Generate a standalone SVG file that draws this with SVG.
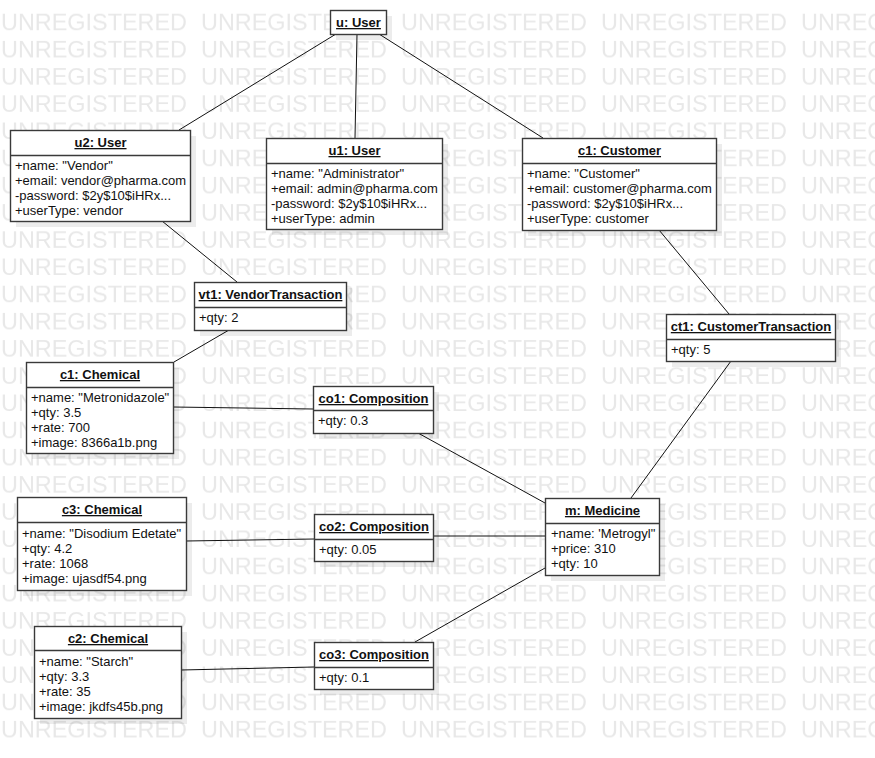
<svg xmlns="http://www.w3.org/2000/svg" width="875" height="758" viewBox="0 0 875 758">
<style>
.wm{font-family:"Liberation Sans",Arial,sans-serif;font-size:24px;fill:#e8e8e8}
.sh{fill:#000;fill-opacity:0.075}
.box{fill:#fff;stroke:#3a3a3a;stroke-width:1.4}
.div{stroke:#3a3a3a;stroke-width:1.4}
.t{font-family:"Liberation Sans",Arial,sans-serif;font-size:13px;font-weight:bold;fill:#111;text-anchor:middle;text-decoration:underline}
.a{font-family:"Liberation Sans",Arial,sans-serif;font-size:13px;fill:#111}
.c{stroke:#111;stroke-width:1;fill:none}
</style>
<defs>
<pattern id="wmp" patternUnits="userSpaceOnUse" x="0" y="4" width="200" height="27.2">
<text class="wm" x="1" y="26.5" textLength="186" lengthAdjust="spacingAndGlyphs">UNREGISTERED</text>
</pattern>
</defs>
<rect width="875" height="758" fill="#fff"/>
<rect x="0" y="5" width="875" height="737" fill="url(#wmp)"/>
<g id="connectors">
<line class="c" x1="336" y1="34" x2="179" y2="130"/>
<line class="c" x1="357" y1="34" x2="355" y2="138"/>
<line class="c" x1="379" y1="34" x2="543" y2="138"/>
<line class="c" x1="162" y1="221" x2="237" y2="282"/>
<line class="c" x1="229" y1="330" x2="174" y2="362"/>
<line class="c" x1="173" y1="407" x2="313" y2="409"/>
<line class="c" x1="418" y1="433" x2="545" y2="503"/>
<line class="c" x1="659" y1="230" x2="729" y2="314"/>
<line class="c" x1="731" y1="361" x2="631" y2="498"/>
<line class="c" x1="186" y1="541" x2="314" y2="539"/>
<line class="c" x1="433" y1="536" x2="545" y2="536"/>
<line class="c" x1="181" y1="670" x2="314" y2="667"/>
<line class="c" x1="415" y1="642" x2="545" y2="568"/>
</g>
<g id="u">
<rect class="sh" x="336" y="16" width="56" height="24"/>
<rect class="box" x="330.5" y="10.5" width="56" height="24"/>
<text class="t" x="358.5" y="27">u: User</text>
</g>
<g id="u2">
<rect class="sh" x="16" y="136" width="180" height="91"/>
<rect class="box" x="10.5" y="130.5" width="180" height="91"/>
<line class="div" x1="10.5" y1="155.5" x2="190.5" y2="155.5"/>
<text class="t" x="100.5" y="147">u2: User</text>
<text class="a" x="15" y="170">+name: "Vendor"</text>
<text class="a" x="15" y="185">+email: vendor@pharma.com</text>
<text class="a" x="15" y="200">-password: $2y$10$iHRx...</text>
<text class="a" x="15" y="215">+userType: vendor</text>
</g>
<g id="u1">
<rect class="sh" x="272" y="144" width="176" height="91"/>
<rect class="box" x="266.5" y="138.5" width="176" height="91"/>
<line class="div" x1="266.5" y1="163.5" x2="442.5" y2="163.5"/>
<text class="t" x="354.5" y="155">u1: User</text>
<text class="a" x="271" y="178">+name: "Administrator"</text>
<text class="a" x="271" y="193">+email: admin@pharma.com</text>
<text class="a" x="271" y="208">-password: $2y$10$iHRx...</text>
<text class="a" x="271" y="223">+userType: admin</text>
</g>
<g id="c1customer">
<rect class="sh" x="528" y="144" width="194" height="92"/>
<rect class="box" x="522.5" y="138.5" width="194" height="92"/>
<line class="div" x1="522.5" y1="163.5" x2="716.5" y2="163.5"/>
<text class="t" x="619.5" y="155">c1: Customer</text>
<text class="a" x="527" y="178">+name: "Customer"</text>
<text class="a" x="527" y="193">+email: customer@pharma.com</text>
<text class="a" x="527" y="208">-password: $2y$10$iHRx...</text>
<text class="a" x="527" y="223">+userType: customer</text>
</g>
<g id="vt1">
<rect class="sh" x="200" y="288" width="152" height="48"/>
<rect class="box" x="194.5" y="282.5" width="152" height="48"/>
<line class="div" x1="194.5" y1="307.5" x2="346.5" y2="307.5"/>
<text class="t" x="270.5" y="299">vt1: VendorTransaction</text>
<text class="a" x="199" y="322">+qty: 2</text>
</g>
<g id="c1chemical">
<rect class="sh" x="32" y="368" width="147" height="91"/>
<rect class="box" x="26.5" y="362.5" width="147" height="91"/>
<line class="div" x1="26.5" y1="387.5" x2="173.5" y2="387.5"/>
<text class="t" x="100" y="379">c1: Chemical</text>
<text class="a" x="31" y="402">+name: "Metronidazole"</text>
<text class="a" x="31" y="417">+qty: 3.5</text>
<text class="a" x="31" y="432">+rate: 700</text>
<text class="a" x="31" y="447">+image: 8366a1b.png</text>
</g>
<g id="co1">
<rect class="sh" x="319" y="392" width="120" height="47"/>
<rect class="box" x="313.5" y="386.5" width="120" height="47"/>
<line class="div" x1="313.5" y1="410.5" x2="433.5" y2="410.5"/>
<text class="t" x="373.5" y="403">co1: Composition</text>
<text class="a" x="318" y="425">+qty: 0.3</text>
</g>
<g id="ct1">
<rect class="sh" x="672" y="320" width="169" height="47"/>
<rect class="box" x="666.5" y="314.5" width="169" height="47"/>
<line class="div" x1="666.5" y1="339.5" x2="835.5" y2="339.5"/>
<text class="t" x="751" y="331">ct1: CustomerTransaction</text>
<text class="a" x="671" y="354">+qty: 5</text>
</g>
<g id="m">
<rect class="sh" x="551" y="504" width="114" height="77"/>
<rect class="box" x="545.5" y="498.5" width="114" height="77"/>
<line class="div" x1="545.5" y1="523.5" x2="659.5" y2="523.5"/>
<text class="t" x="602.5" y="515">m: Medicine</text>
<text class="a" x="551" y="538">+name: 'Metrogyl"</text>
<text class="a" x="551" y="553">+price: 310</text>
<text class="a" x="551" y="568">+qty: 10</text>
</g>
<g id="c3">
<rect class="sh" x="23" y="503" width="169" height="93"/>
<rect class="box" x="17.5" y="497.5" width="169" height="93"/>
<line class="div" x1="17.5" y1="522.5" x2="186.5" y2="522.5"/>
<text class="t" x="102" y="514">c3: Chemical</text>
<text class="a" x="22" y="538">+name: "Disodium Edetate"</text>
<text class="a" x="22" y="553">+qty: 4.2</text>
<text class="a" x="22" y="568">+rate: 1068</text>
<text class="a" x="22" y="583">+image: ujasdf54.png</text>
</g>
<g id="co2">
<rect class="sh" x="320" y="520" width="119" height="47"/>
<rect class="box" x="314.5" y="514.5" width="119" height="47"/>
<line class="div" x1="314.5" y1="539.5" x2="433.5" y2="539.5"/>
<text class="t" x="374" y="531">co2: Composition</text>
<text class="a" x="319" y="554">+qty: 0.05</text>
</g>
<g id="c2">
<rect class="sh" x="40" y="632" width="147" height="92"/>
<rect class="box" x="34.5" y="626.5" width="147" height="92"/>
<line class="div" x1="34.5" y1="650.5" x2="181.5" y2="650.5"/>
<text class="t" x="108" y="643">c2: Chemical</text>
<text class="a" x="39" y="666">+name: "Starch"</text>
<text class="a" x="39" y="681">+qty: 3.3</text>
<text class="a" x="39" y="696">+rate: 35</text>
<text class="a" x="39" y="711">+image: jkdfs45b.png</text>
</g>
<g id="co3">
<rect class="sh" x="320" y="648" width="119" height="47"/>
<rect class="box" x="314.5" y="642.5" width="119" height="47"/>
<line class="div" x1="314.5" y1="667.5" x2="433.5" y2="667.5"/>
<text class="t" x="374" y="659">co3: Composition</text>
<text class="a" x="319" y="682">+qty: 0.1</text>
</g>
</svg>
